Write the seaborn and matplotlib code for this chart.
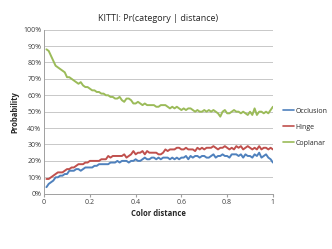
import matplotlib
matplotlib.use("Agg")
import matplotlib.pyplot as plt
import numpy as np
import pandas as pd
import seaborn as sns
from matplotlib.ticker import PercentFormatter

# color distance bins (0.01 .. 1.00)
distance = [round(0.01 * i, 2) for i in range(1, 101)]

occlusion = [
    4, 6, 7, 8, 10, 10, 11, 11, 12, 12,
    14, 14, 14, 15, 15, 14, 15, 16, 16, 16,
    16, 17, 17, 18, 18, 18, 18, 18, 19, 19,
    19, 20, 19, 20, 20, 20, 19, 20, 20, 21,
    20, 20, 21, 22, 21, 21, 22, 22, 21, 22,
    21, 22, 22, 22, 21, 22, 21, 22, 21, 22,
    22, 23, 21, 23, 22, 23, 23, 22, 23, 23,
    22, 22, 23, 24, 22, 23, 23, 24, 23, 23,
    22, 24, 24, 24, 23, 24, 22, 24, 23, 23,
    22, 24, 23, 25, 22, 23, 24, 22, 21, 19,
]
hinge = [
    9, 9, 10, 11, 12, 13, 13, 13, 14, 15,
    15, 16, 16, 17, 18, 18, 18, 19, 19, 20,
    20, 20, 20, 20, 21, 21, 21, 23, 22, 23,
    23, 23, 23, 23, 24, 22, 23, 24, 26, 24,
    25, 25, 26, 24, 26, 25, 25, 25, 25, 24,
    24, 25, 27, 26, 27, 27, 27, 28, 28, 27,
    27, 28, 27, 27, 27, 26, 28, 27, 28, 27,
    28, 28, 28, 29, 28, 27, 28, 28, 29, 28,
    27, 28, 27, 29, 28, 29, 27, 28, 29, 28,
    27, 28, 27, 29, 27, 28, 28, 27, 28, 27,
]
coplanar = [
    88, 87, 84, 81, 78, 77, 76, 75, 74, 71,
    71, 70, 69, 68, 67, 68, 66, 65, 65, 64,
    63, 63, 62, 62, 61, 61, 60, 60, 59, 59,
    58, 58, 59, 57, 56, 58, 58, 57, 55, 55,
    56, 55, 54, 55, 54, 54, 54, 54, 53, 53,
    54, 54, 54, 53, 52, 53, 52, 53, 52, 51,
    52, 51, 52, 52, 51, 50, 51, 50, 50, 51,
    50, 51, 50, 51, 50, 49, 47, 50, 51, 49,
    49, 50, 51, 50, 50, 49, 50, 49, 48, 50,
    48, 52, 48, 50, 50, 49, 50, 49, 51, 53,
]

categories = ["Occlusion", "Hinge", "Coplanar"]
colors = ["#4F81BD", "#C0504D", "#9BBB59"]

df = pd.DataFrame({"distance": distance, "Occlusion": occlusion,
                   "Hinge": hinge, "Coplanar": coplanar})
long = df.melt(id_vars="distance", var_name="category", value_name="prob")

sns.set_style("white")
plt.rcParams["font.family"] = ["Open Sans", "DejaVu Sans"]

fig = plt.figure(figsize=(3.32, 2.49), dpi=100)
ax = fig.add_axes([0.133, 0.222, 0.689, 0.659])

sns.lineplot(data=long, x="distance", y="prob", hue="category",
             hue_order=categories, palette=colors, linewidth=1.4, ax=ax)

ax.set_xlim(0, 1)
ax.set_ylim(0, 100)
ax.set_yticks(np.arange(0, 101, 10))
ax.set_xticks([0, 0.2, 0.4, 0.6, 0.8, 1.0])
ax.set_xticklabels(["0", "0.2", "0.4", "0.6", "0.8", "1"])
ax.yaxis.set_major_formatter(PercentFormatter(decimals=0))
ax.tick_params(axis="both", labelsize=5, colors="#404040", pad=2)
ax.tick_params(axis="x", length=2, color="#A0A0A0", direction="out", bottom=True)
ax.tick_params(axis="y", length=0)
ax.grid(axis="y", color="#C8C8C8", linewidth=0.7)
ax.set_axisbelow(True)
for side in ["top", "right"]:
    ax.spines[side].set_visible(False)
for side in ["left", "bottom"]:
    ax.spines[side].set_color("#A0A0A0")
    ax.spines[side].set_linewidth(0.7)

ax.set_xlabel("Color distance", fontsize=5.5, fontweight="bold", labelpad=2)
ax.set_ylabel("Probability", fontsize=5.5, fontweight="bold", labelpad=3)
ax.set_title("KITTI: Pr(category | distance)", fontsize=6.5, pad=6)

handles, labels = ax.get_legend_handles_labels()
ax.get_legend().remove()
for h in handles:
    h.set_linewidth(1.2)
fig.legend(handles, labels, loc="upper left", bbox_to_anchor=(0.845, 0.578),
           frameon=False, fontsize=5, handlelength=1.6, handletextpad=0.2,
           labelspacing=1.3, borderaxespad=0)

fig.savefig("out.png", dpi=100)
plt.close(fig)
